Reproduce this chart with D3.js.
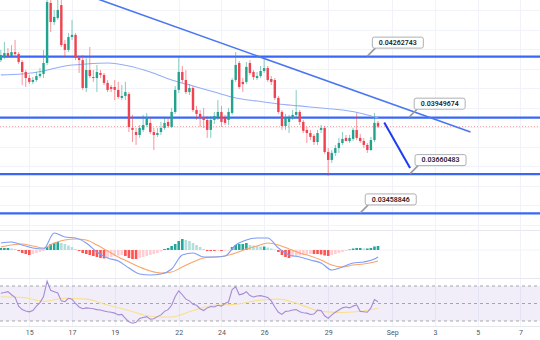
<!DOCTYPE html>
<html>
<head>
<meta charset="utf-8">
<script src="https://cdn.jsdelivr.net/npm/d3@7"></script>
<style>
  html, body { margin: 0; padding: 0; background: #ffffff; }
  svg { display: block; font-family: Roboto, "Noto Sans", sans-serif; }
</style>
</head>
<body>
<svg id="chart" width="540" height="340"></svg>
<script>
// ---- 4h candles, first bar opens Aug 13 2022 16:00 UTC ----
const firstBar = Date.UTC(2022, 7, 13, 16);
const barHours = 4;

// [open, high, low, close]
const candles = [
  [0.04245,0.04297,0.04235,0.04271],[0.04261,0.04338,0.04251,0.04281],[0.04281,0.04307,0.04256,0.04266],
  [0.04266,0.04322,0.04256,0.04286],[0.04286,0.04348,0.04261,0.04276],[0.04276,0.04286,0.04225,0.04235],
  [0.04235,0.04245,0.04117,0.04184],[0.04184,0.04194,0.04107,0.04153],[0.04153,0.04169,0.04122,0.04133],
  [0.04133,0.04158,0.04122,0.04143],[0.04143,0.04184,0.04133,0.04163],[0.04163,0.04204,0.04153,0.04174],
  [0.04174,0.04297,0.04153,0.04230],[0.04230,0.04604,0.04220,0.04543],[0.04538,0.04579,0.04389,0.04440],
  [0.04440,0.04502,0.04425,0.04466],[0.04461,0.04568,0.04451,0.04502],[0.04527,0.04579,0.04312,0.04322],
  [0.04328,0.04348,0.04261,0.04297],[0.04297,0.04384,0.04286,0.04363],[0.04363,0.04451,0.04348,0.04374],
  [0.04374,0.04384,0.04245,0.04256],[0.04256,0.04266,0.04179,0.04245],[0.04245,0.04271,0.04092,0.04102],
  [0.04102,0.04256,0.04081,0.04194],[0.04194,0.04312,0.04153,0.04163],[0.04158,0.04194,0.04133,0.04153],
  [0.04153,0.04220,0.04081,0.04184],[0.04179,0.04194,0.04153,0.04169],[0.04169,0.04179,0.04117,0.04128],
  [0.04128,0.04143,0.04081,0.04092],[0.04107,0.04117,0.04081,0.04097],[0.04107,0.04143,0.04040,0.04092],
  [0.04092,0.04133,0.04046,0.04056],[0.04051,0.04117,0.04040,0.04061],[0.04061,0.04133,0.04040,0.04081],
  [0.04071,0.04081,0.03876,0.03902],[0.03897,0.03964,0.03825,0.03887],[0.03876,0.03897,0.03810,0.03861],
  [0.03861,0.03912,0.03846,0.03897],[0.03887,0.03964,0.03876,0.03912],[0.03912,0.03974,0.03902,0.03953],
  [0.03923,0.03948,0.03866,0.03876],[0.03876,0.03897,0.03784,0.03861],[0.03861,0.03897,0.03851,0.03871],
  [0.03876,0.03928,0.03861,0.03897],[0.03897,0.03948,0.03887,0.03923],[0.03928,0.03953,0.03897,0.03907],
  [0.03902,0.03999,0.03897,0.03979],[0.03979,0.04112,0.03969,0.04092],[0.04092,0.04256,0.04076,0.04184],
  [0.04184,0.04215,0.04128,0.04143],[0.04143,0.04194,0.04071,0.04081],[0.04081,0.04122,0.04066,0.04102],
  [0.04102,0.04112,0.03979,0.03989],[0.03989,0.04010,0.03938,0.03969],[0.03969,0.03989,0.03902,0.03948],
  [0.03953,0.03999,0.03897,0.03938],[0.03938,0.03958,0.03846,0.03887],[0.03887,0.03958,0.03846,0.03938],
  [0.03938,0.03979,0.03917,0.03958],[0.03953,0.04040,0.03938,0.03979],[0.03979,0.04010,0.03902,0.03928],
  [0.03948,0.03964,0.03912,0.03923],[0.03938,0.03999,0.03912,0.03979],[0.03974,0.04153,0.03964,0.04143],
  [0.04143,0.04286,0.04133,0.04220],[0.04230,0.04240,0.04097,0.04107],[0.04133,0.04153,0.04081,0.04122],
  [0.04133,0.04235,0.04122,0.04210],[0.04230,0.04245,0.04169,0.04179],[0.04184,0.04194,0.04143,0.04158],
  [0.04153,0.04184,0.04143,0.04163],[0.04163,0.04215,0.04153,0.04189],[0.04189,0.04261,0.04179,0.04204],
  [0.04204,0.04215,0.04133,0.04143],[0.04148,0.04163,0.04117,0.04133],[0.04143,0.04153,0.04040,0.04051],
  [0.04051,0.04061,0.03969,0.03979],[0.03979,0.03989,0.03887,0.03907],[0.03907,0.03969,0.03887,0.03953],
  [0.03928,0.03964,0.03871,0.03948],[0.03948,0.03989,0.03938,0.03964],[0.03964,0.04092,0.03948,0.03979],
  [0.03979,0.03989,0.03912,0.03928],[0.03928,0.03938,0.03871,0.03882],[0.03887,0.03902,0.03820,0.03871],
  [0.03871,0.03887,0.03835,0.03851],[0.03856,0.03866,0.03810,0.03825],[0.03825,0.03887,0.03810,0.03871],
  [0.03887,0.03912,0.03871,0.03897],[0.03897,0.03907,0.03764,0.03774],[0.03774,0.03794,0.03651,0.03733],
  [0.03733,0.03784,0.03718,0.03769],[0.03769,0.03810,0.03753,0.03794],[0.03794,0.03846,0.03769,0.03820],
  [0.03820,0.03876,0.03810,0.03841],[0.03846,0.03861,0.03830,0.03830],[0.03830,0.03861,0.03820,0.03846],
  [0.03841,0.03897,0.03830,0.03887],[0.03887,0.03974,0.03835,0.03846],[0.03846,0.03866,0.03820,0.03830],
  [0.03830,0.03846,0.03794,0.03810],[0.03810,0.03820,0.03769,0.03784],[0.03784,0.03851,0.03779,0.03835],
  [0.03835,0.03974,0.03825,0.03923],[0.03923,0.03933,0.03897,0.03904]
];

// moving average on price: [bar index, value]
const priceMA = [
  [0,0.04169],[6,0.04174],[12,0.04189],[18,0.04215],[24,0.04225],[30,0.04230],[36,0.04215],
  [42,0.04184],[48,0.04143],[54,0.04112],[60,0.04081],[66,0.04051],[72,0.04035],[78,0.04020],
  [84,0.04010],[90,0.03999],[96,0.03989],[102,0.03969],[106,0.03948]
];

// horizontal levels and the time at which each callout points to its line
const levelPrices = [0.04262743, 0.03949674, 0.03660483, 0.03458846];
const levelNoteTimes = [Date.UTC(2022,7,30,20), Date.UTC(2022,8,1,19), Date.UTC(2022,8,1,20), Date.UTC(2022,7,30,12)];

// descending trend line and projected move: [time, price]
const trendLine = [[Date.UTC(2022,7,16,5), 0.04636], [Date.UTC(2022,8,4,16), 0.03876]];
const projection = [[Date.UTC(2022,7,31,15), 0.03925], [Date.UTC(2022,8,1,20), 0.03692]];

const lastPrice = 0.03904;
const priceGrid = [0.034,0.035,0.036,0.037,0.038,0.039,0.040,0.041,0.042,0.043,0.044,0.045];

// MACD histogram per bar
const macdHist = [
  0.00002,0.00002,0.00002,0.000015,0.00001,-0.00001,-0.00003,-0.00004,-0.00005,-0.00004,-0.00003,-0.00002,-0.00001,
  0.00003,0.00006,0.00007,0.00008,0.00007,0.00006,0.000045,0.00003,0.00001,
  -0.00001,-0.00003,-0.00004,-0.00005,-0.00006,-0.00007,-0.00008,-0.000085,-0.00008,-0.00007,-0.00006,-0.000055,-0.00005,-0.00006,
  -0.00008,-0.00009,-0.00009,-0.00008,-0.00007,-0.00006,-0.00005,-0.00004,-0.00003,-0.000015,
  0.00001,0.00002,0.00004,0.00006,0.00009,0.00011,0.00010,0.00009,0.00007,0.00005,0.00003,0.00001,
  -0.00001,-0.00001,-0.00001,-0.000008,-0.00001,-0.000008,-0.000005,
  0.00003,0.00005,0.00006,0.00006,0.00007,0.00005,0.000045,0.00004,0.000035,0.000035,0.000025,0.000015,0.000005,
  -0.00002,-0.00005,-0.00007,-0.00008,-0.00007,-0.00006,-0.000055,-0.00005,-0.000045,-0.00004,-0.00004,-0.00004,-0.000045,-0.000055,-0.00006,-0.00005,-0.00004,-0.00003,-0.00002,-0.00001,
  0.000005,0.000015,0.00002,0.00002,0.000015,0.000015,0.00002,0.000035,0.00004
];
// MACD and signal lines: [bar index, value]
const macdLine = [
  [0,0.00007],[3,0.00008],[6,0.00005],[9,0.00002],[12,0.00001],[15,0.00017],[18,0.00013],[21,0.00012],
  [24,0.00007],[27,-0.00002],[30,-0.00008],[33,-0.00011],[36,-0.00018],[39,-0.00024],[42,-0.00025],
  [45,-0.00024],[48,-0.00019],[51,-0.00005],[54,-0.00003],[57,-0.00007],[60,-0.00007],[63,-0.00006],
  [66,0.00005],[69,0.00010],[72,0.00012],[75,0.00012],[78,0.00002],[81,-0.00005],[84,-0.00007],
  [87,-0.00010],[90,-0.00013],[93,-0.00020],[96,-0.00017],[99,-0.00013],[102,-0.00012],[105,-0.00009],[106,-0.00007]
];
const signalLine = [
  [0,0.00003],[3,0.00005],[6,0.00006],[9,0.00004],[12,0.00002],[15,0.00007],[18,0.00010],[21,0.00011],
  [24,0.00010],[27,0.00005],[30,-0.00001],[33,-0.00007],[36,-0.00012],[39,-0.00017],[42,-0.00021],
  [45,-0.00023],[48,-0.00022],[51,-0.00017],[54,-0.00012],[57,-0.00008],[60,-0.00007],[63,-0.00006],
  [66,-0.00003],[69,0.00001],[72,0.00004],[75,0.00007],[78,0.00005],[81,0.00001],[84,-0.00003],
  [87,-0.00006],[90,-0.00010],[93,-0.00015],[96,-0.00017],[99,-0.00015],[102,-0.00014],[105,-0.00012],[106,-0.00011]
];

// RSI per bar and its moving average
const rsi = [
  61.7,62.5,63.5,60,57,47,43,41.5,40.5,42,47,51,58,75.5,65,63.5,62,53,52,56,55,50,46,44,45,44.5,44,43,
  42.5,41.5,40.5,40,39,37,37.5,33,29,27.5,28.5,33,34,35,32,32.5,35,37,41,43,48,58,64.5,60,55,53,49,48,
  44,42,45,46.5,46,48,47,50,52,66,69,60,61,63.5,59,57.5,58.5,59,58,57,53,46,40,37.5,41,41.5,42.5,43,
  40.5,39.5,39,37.5,38,42.5,42,36,33,37,40,42.5,45,46,45,47,48.5,41,40.5,40,45,54.5,52
];
const rsiMA = [
  [0,57.8],[6,57],[12,52.5],[18,56],[24,55],[30,48.3],[36,42],[42,35.5],[48,34.5],[54,42],
  [60,48],[66,49],[72,53.5],[78,55],[84,49],[90,41],[96,39.8],[102,41.5],[106,44.5]
];
const rsiLevels = [70, 50, 30];

// time axis labels
const dayTicks = [
  Date.UTC(2022,7,15), Date.UTC(2022,7,17), Date.UTC(2022,7,19), Date.UTC(2022,7,22),
  Date.UTC(2022,7,24), Date.UTC(2022,7,26), Date.UTC(2022,7,29), Date.UTC(2022,8,1),
  Date.UTC(2022,8,3), Date.UTC(2022,8,5), Date.UTC(2022,8,7)
].map(t => new Date(t));

// ---------------- drawing ----------------
const W = 540, H = 340;
const pane = { main: [0, 230], macd: [230, 278], rsi: [278, 326] };
const svg = d3.select("#chart");

const barTime = i => new Date(firstBar + i * barHours * 3600e3);

const x = d3.scaleUtc()
  .domain([Date.UTC(2022,7,15), Date.UTC(2022,8,7)])
  .range([29.3, 520.35]);
const y = d3.scaleLinear().domain([0.0337389, 0.0455296]).range([pane.main[1], pane.main[0]]);
const yMacd = d3.scaleLinear().domain([-0.00028, 0.0002]).range([pane.macd[1], pane.macd[0]]);
const yRsi = d3.scaleLinear().domain([30, 70]).range([321, 286]);

const defs = svg.append("defs");
Object.entries(pane).forEach(([k, [t, b]]) => {
  defs.append("clipPath").attr("id", "clip-" + k)
    .append("rect").attr("x", 0).attr("y", t).attr("width", W).attr("height", b - t);
});

// grid
const grid = svg.append("g");
grid.selectAll("line.v").data(dayTicks).join("line")
  .attr("x1", d => Math.round(x(d)) + 0.5).attr("x2", d => Math.round(x(d)) + 0.5)
  .attr("y1", 0).attr("y2", pane.rsi[1])
  .attr("stroke", "#f0f3fa").attr("stroke-width", 1);
grid.selectAll("line.h").data(priceGrid).join("line")
  .attr("x1", 0).attr("x2", W)
  .attr("y1", d => Math.round(y(d)) + 0.5).attr("y2", d => Math.round(y(d)) + 0.5)
  .attr("stroke", "#f0f3fa").attr("stroke-width", 1);

// pane separators
[pane.macd[0], pane.rsi[0], pane.rsi[1]].forEach(v => {
  svg.append("line").attr("x1", 0).attr("x2", W).attr("y1", v + 0.5).attr("y2", v + 0.5)
    .attr("stroke", "#e6e8ee").attr("stroke-width", 1);
});

// ---- main pane ----
const main = svg.append("g").attr("clip-path", "url(#clip-main)");

// horizontal levels
main.selectAll("line.level").data(levelPrices).join("line")
  .attr("x1", 0).attr("x2", W)
  .attr("y1", d => y(d)).attr("y2", d => y(d))
  .attr("stroke", "#3a67f5").attr("stroke-width", 2.2);

// last price line
main.append("line")
  .attr("x1", 0).attr("x2", W).attr("y1", y(lastPrice)).attr("y2", y(lastPrice))
  .attr("stroke", "#f6a3a9").attr("stroke-width", 1).attr("stroke-dasharray", "1,2");

// moving average
const maLine = d3.line().curve(d3.curveMonotoneX)
  .x(d => x(barTime(d[0]))).y(d => y(d[1]));
main.append("path").datum(priceMA).attr("d", maLine)
  .attr("fill", "none").attr("stroke", "#95adf7").attr("stroke-width", 1.1);

// candles
const upC = "#22a38f", dnC = "#f0424f";
const cg = main.append("g");
candles.forEach((c, i) => {
  const [o, h, l, cl] = c;
  const cx = x(barTime(i));
  const col = cl >= o ? upC : dnC;
  cg.append("line")
    .attr("x1", cx).attr("x2", cx).attr("y1", y(h)).attr("y2", y(l))
    .attr("stroke", col).attr("stroke-width", 1).attr("stroke-opacity", 0.55);
  const top = y(Math.max(o, cl)), bot = y(Math.min(o, cl));
  cg.append("rect")
    .attr("x", cx - 1.2).attr("width", 2.4)
    .attr("y", top).attr("height", Math.max(1, bot - top))
    .attr("fill", col);
});

// trend line and projected move
const segLine = d3.line().x(d => x(new Date(d[0]))).y(d => y(d[1]));
main.append("path").datum(trendLine).attr("d", segLine)
  .attr("fill", "none").attr("stroke", "#4a76f2").attr("stroke-width", 1.6);
main.append("path").datum(projection).attr("d", segLine)
  .attr("fill", "none").attr("stroke", "#1d3cf0").attr("stroke-width", 2);

// level callouts
const notes = svg.append("g");
levelPrices.forEach((p, k) => {
  const ax = x(new Date(levelNoteTimes[k])), ay = y(p);
  const bx = ax + 5, bw = 51, bh = 11, by = ay - 8.5 - bh;
  notes.append("line")
    .attr("x1", ax).attr("y1", ay - 0.5).attr("x2", ax + 8).attr("y2", by + bh)
    .attr("stroke", "#9a9ca3").attr("stroke-width", 1.6);
  notes.append("rect")
    .attr("x", bx).attr("y", by).attr("width", bw).attr("height", bh).attr("rx", 2)
    .attr("fill", "#ffffff").attr("stroke", "#a5a7ad").attr("stroke-width", 0.9);
  notes.append("text")
    .attr("x", bx + bw / 2).attr("y", by + bh / 2 + 0.5)
    .attr("text-anchor", "middle").attr("dominant-baseline", "middle")
    .attr("font-size", 7).attr("font-weight", 600).attr("fill", "#1e222d")
    .text(p.toFixed(8));
});

// ---- MACD pane ----
const mg = svg.append("g").attr("clip-path", "url(#clip-macd)");
mg.append("line").attr("x1", 0).attr("x2", W).attr("y1", yMacd(0)).attr("y2", yMacd(0))
  .attr("stroke", "#f0f3fa").attr("stroke-width", 1);
macdHist.forEach((v, i) => {
  const prev = i > 0 ? macdHist[i - 1] : v;
  let col;
  if (v >= 0) col = v >= prev ? "#26a69a" : "#b2dfdb";
  else col = v <= prev ? "#ff5252" : "#ffcdd2";
  const cx = x(barTime(i));
  const y0 = yMacd(0), y1 = yMacd(v);
  mg.append("rect")
    .attr("x", cx - 1.3).attr("width", 2.6)
    .attr("y", Math.min(y0, y1)).attr("height", Math.max(0.6, Math.abs(y1 - y0)))
    .attr("fill", col);
});
const macdPath = d3.line().curve(d3.curveMonotoneX)
  .x(d => x(barTime(d[0]))).y(d => yMacd(d[1]));
mg.append("path").datum(signalLine).attr("d", macdPath)
  .attr("fill", "none").attr("stroke", "#f9a46a").attr("stroke-width", 1.1);
mg.append("path").datum(macdLine).attr("d", macdPath)
  .attr("fill", "none").attr("stroke", "#7d9cf7").attr("stroke-width", 1.1);

// ---- RSI pane ----
const rg = svg.append("g").attr("clip-path", "url(#clip-rsi)");
rg.append("rect")
  .attr("x", 0).attr("width", W)
  .attr("y", yRsi(70)).attr("height", yRsi(30) - yRsi(70))
  .attr("fill", "#7e57c2").attr("fill-opacity", 0.1);
rg.selectAll("line.band").data(rsiLevels).join("line")
  .attr("x1", 0).attr("x2", W)
  .attr("y1", d => yRsi(d)).attr("y2", d => yRsi(d))
  .attr("stroke", "#a4a6ad").attr("stroke-width", 1).attr("stroke-dasharray", "3,3");
rg.append("path").datum(rsiMA)
  .attr("d", d3.line().curve(d3.curveMonotoneX).x(d => x(barTime(d[0]))).y(d => yRsi(d[1])))
  .attr("fill", "none").attr("stroke", "#f8e08e").attr("stroke-width", 1.1);
rg.append("path").datum(rsi)
  .attr("d", d3.line().x((d, i) => x(barTime(i))).y(d => yRsi(d)))
  .attr("fill", "none").attr("stroke", "#a58ad6").attr("stroke-width", 1.1);

// ---- time axis ----
const axis = d3.axisBottom(x)
  .tickValues(dayTicks)
  .tickSize(0).tickPadding(0)
  .tickFormat(d => d.getUTCDate() === 1 ? "Sep" : String(d.getUTCDate()));
const ag = svg.append("g").attr("transform", "translate(0,330)").call(axis);
ag.select(".domain").remove();
ag.selectAll("text").attr("font-size", 7).attr("fill", "#50535e")
  .attr("font-family", "Roboto, 'Noto Sans', sans-serif");
</script>
</body>
</html>
